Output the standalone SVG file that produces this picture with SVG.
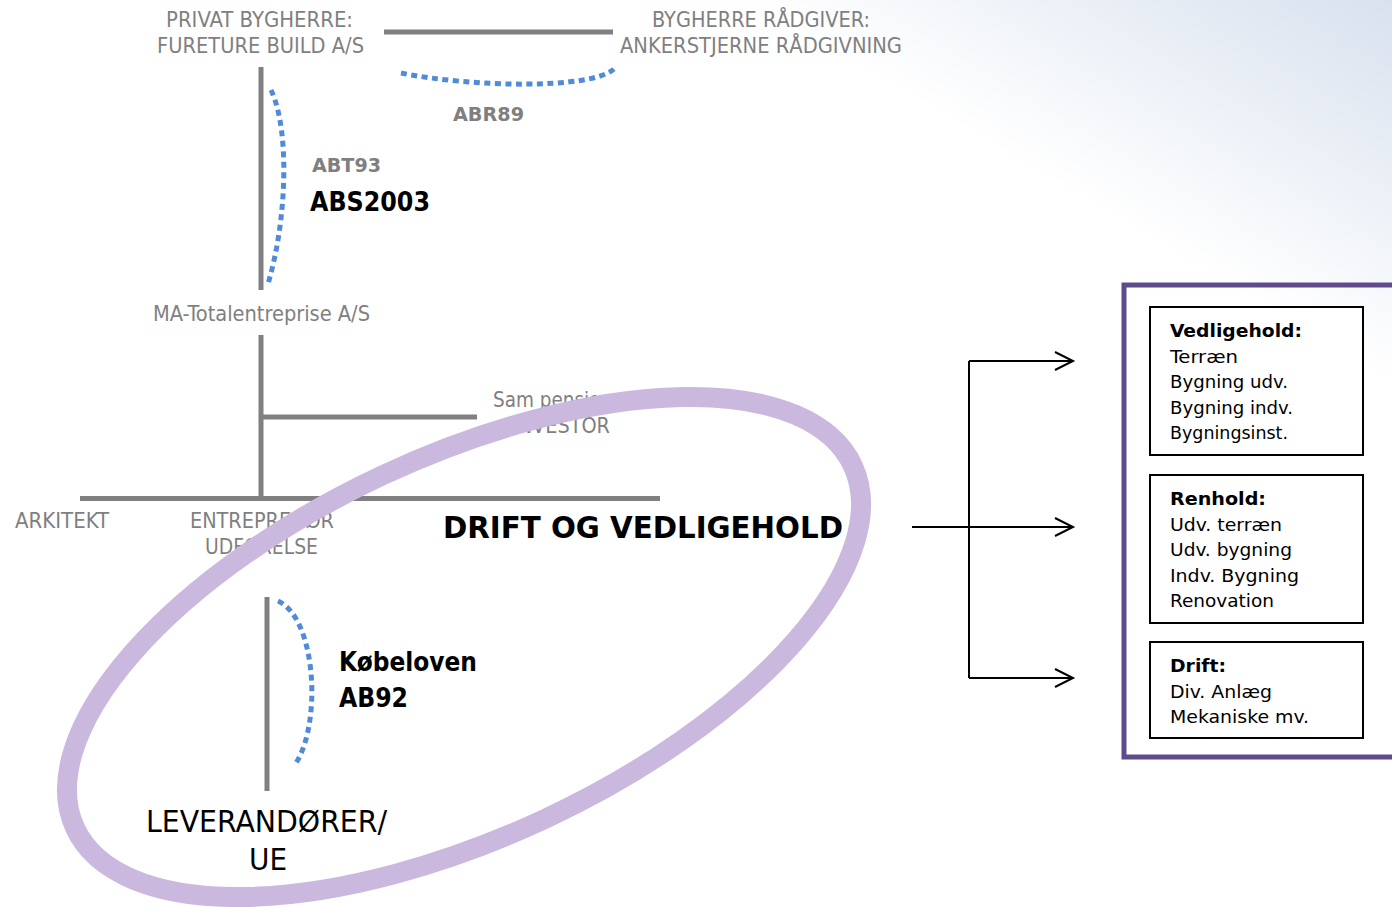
<svg xmlns="http://www.w3.org/2000/svg" width="1392" height="907" viewBox="0 0 1392 907">
  <defs>
    <linearGradient id="bgGrad" gradientUnits="userSpaceOnUse" x1="1392" y1="0" x2="1224" y2="284">
      <stop offset="0" stop-color="#d8e1ee"/>
      <stop offset="1" stop-color="#ffffff"/>
    </linearGradient>
    <style>
      text { font-family: "DejaVu Sans Condensed", "DejaVu Sans", "Liberation Sans", sans-serif; }
      .grey { fill: #7f7f7f; font-size: 21px; }
      .greyb { fill: #7f7f7f; font-size: 20px; font-weight: bold; }
      .law { fill: #000; font-size: 26px; font-weight: bold; }
      .big { fill: #000; font-size: 30px; }
      .bigb { fill: #000; font-size: 30px; font-weight: bold; }
      .item { fill: #000; font-size: 18px; }
      .itemb { fill: #000; font-size: 18px; font-weight: bold; }
      .bar { stroke: #808080; stroke-width: 5; fill: none; }
      .dots { stroke: #4f8bd6; stroke-width: 5; fill: none; stroke-dasharray: 6 4.5; }
      .conn { stroke: #000; stroke-width: 2; fill: none; }
      .box { fill: #fff; stroke: #000; stroke-width: 2; }
    </style>
  </defs>

  <!-- background wash -->
  <rect x="0" y="0" width="1392" height="907" fill="url(#bgGrad)"/>

  <!-- organisation connectors (grey bars) and contract arcs -->
  <g id="connectors">
    <line class="bar" x1="384" y1="32" x2="613" y2="32"/>
    <line class="bar" x1="261" y1="67" x2="261" y2="290"/>
    <line class="bar" x1="261" y1="335" x2="261" y2="498"/>
    <line class="bar" x1="261" y1="417" x2="477" y2="417"/>
    <line class="bar" x1="80" y1="498.5" x2="660" y2="498.5"/>
    <line class="bar" x1="267" y1="597" x2="267" y2="791"/>

    <path class="dots" d="M401,73 C470,87 590,90 614,69"/>
    <path class="dots" d="M271,90 C290,130 287,220 268,284"/>
    <path class="dots" d="M278,601 C316,618 322,722 296,763"/>

    <!-- arrows to the task boxes -->
    <line class="conn" x1="969" y1="361" x2="969" y2="678"/>
    <line class="conn" x1="969" y1="361" x2="1072" y2="361"/>
    <line class="conn" x1="912" y1="527" x2="1072" y2="527"/>
    <line class="conn" x1="969" y1="678" x2="1072" y2="678"/>
    <polyline class="conn" points="1055,352 1073,361 1055,370"/>
    <polyline class="conn" points="1055,518 1073,527 1055,536"/>
    <polyline class="conn" points="1055,669 1073,678 1055,687"/>
  </g>

  <!-- parties -->
  <g id="node-bygherre">
    <text class="grey" x="166" y="27" textLength="187" lengthAdjust="spacingAndGlyphs">PRIVAT BYGHERRE:</text>
    <text class="grey" x="157" y="53" textLength="207" lengthAdjust="spacingAndGlyphs">FURETURE BUILD A/S</text>
  </g>
  <g id="node-raadgiver">
    <text class="grey" x="652" y="27" textLength="218" lengthAdjust="spacingAndGlyphs">BYGHERRE RÅDGIVER:</text>
    <text class="grey" x="620" y="53" textLength="282" lengthAdjust="spacingAndGlyphs">ANKERSTJERNE RÅDGIVNING</text>
  </g>
  <g id="node-abr89">
    <text class="greyb" x="453" y="121" textLength="71" lengthAdjust="spacingAndGlyphs">ABR89</text>
  </g>
  <g id="node-abt93">
    <text class="greyb" x="312" y="172" textLength="69" lengthAdjust="spacingAndGlyphs">ABT93</text>
    <text class="law" x="310" y="211" textLength="120" lengthAdjust="spacingAndGlyphs">ABS2003</text>
  </g>
  <g id="node-totalentreprise">
    <text class="grey" x="153" y="321" textLength="217" lengthAdjust="spacingAndGlyphs">MA-Totalentreprise A/S</text>
  </g>
  <g id="node-investor">
    <text class="grey" x="493" y="407" textLength="119" lengthAdjust="spacingAndGlyphs">Sam pension</text>
    <text class="grey" x="512" y="433" textLength="98" lengthAdjust="spacingAndGlyphs">INVESTOR</text>
  </g>
  <g id="node-arkitekt">
    <text class="grey" x="15" y="528" textLength="94" lengthAdjust="spacingAndGlyphs">ARKITEKT</text>
  </g>
  <g id="node-entreprenor">
    <text class="grey" x="190" y="528" textLength="144" lengthAdjust="spacingAndGlyphs">ENTREPRENØR</text>
    <text class="grey" x="205" y="554" textLength="113" lengthAdjust="spacingAndGlyphs">UDFØRELSE</text>
  </g>
  <g id="node-kobeloven">
    <text class="law" x="339" y="671" textLength="138" lengthAdjust="spacingAndGlyphs">Købeloven</text>
    <text class="law" x="339" y="707" textLength="69" lengthAdjust="spacingAndGlyphs">AB92</text>
  </g>
  <g id="node-leverandorer">
    <text class="big" x="146" y="832" textLength="241" lengthAdjust="spacingAndGlyphs">LEVERANDØRER/</text>
    <text class="big" x="249" y="870" textLength="38" lengthAdjust="spacingAndGlyphs">UE</text>
  </g>

  <!-- operation & maintenance ring -->
  <g id="node-drift-ring">
    <ellipse cx="464" cy="647" rx="429" ry="190" transform="rotate(-25 464 647)" fill="none" stroke="#cab8de" stroke-width="20"/>
    <text class="bigb" x="443" y="538" textLength="400" lengthAdjust="spacingAndGlyphs">DRIFT OG VEDLIGEHOLD</text>
  </g>

  <!-- task panel -->
  <g id="node-panel">
    <rect x="1124" y="285" width="300" height="472" fill="none" stroke="#5f4b8b" stroke-width="5"/>
  </g>
  <g id="node-vedligehold">
    <rect class="box" x="1150" y="307" width="213" height="148"/>
    <text class="itemb" x="1170" y="337" textLength="132" lengthAdjust="spacingAndGlyphs">Vedligehold:</text>
    <text class="item" x="1170" y="362.5" textLength="68" lengthAdjust="spacingAndGlyphs">Terræn</text>
    <text class="item" x="1170" y="388" textLength="118" lengthAdjust="spacingAndGlyphs">Bygning udv.</text>
    <text class="item" x="1170" y="413.5" textLength="123" lengthAdjust="spacingAndGlyphs">Bygning indv.</text>
    <text class="item" x="1170" y="439" textLength="118" lengthAdjust="spacingAndGlyphs">Bygningsinst.</text>
  </g>
  <g id="node-renhold">
    <rect class="box" x="1150" y="475" width="213" height="148"/>
    <text class="itemb" x="1170" y="505" textLength="96" lengthAdjust="spacingAndGlyphs">Renhold:</text>
    <text class="item" x="1170" y="530.5" textLength="112" lengthAdjust="spacingAndGlyphs">Udv. terræn</text>
    <text class="item" x="1170" y="556" textLength="122" lengthAdjust="spacingAndGlyphs">Udv. bygning</text>
    <text class="item" x="1170" y="581.5" textLength="129" lengthAdjust="spacingAndGlyphs">Indv. Bygning</text>
    <text class="item" x="1170" y="607" textLength="104" lengthAdjust="spacingAndGlyphs">Renovation</text>
  </g>
  <g id="node-drift">
    <rect class="box" x="1150" y="642" width="213" height="96"/>
    <text class="itemb" x="1170" y="672" textLength="56" lengthAdjust="spacingAndGlyphs">Drift:</text>
    <text class="item" x="1170" y="697.5" textLength="102" lengthAdjust="spacingAndGlyphs">Div. Anlæg</text>
    <text class="item" x="1170" y="723" textLength="139" lengthAdjust="spacingAndGlyphs">Mekaniske mv.</text>
  </g>
</svg>
